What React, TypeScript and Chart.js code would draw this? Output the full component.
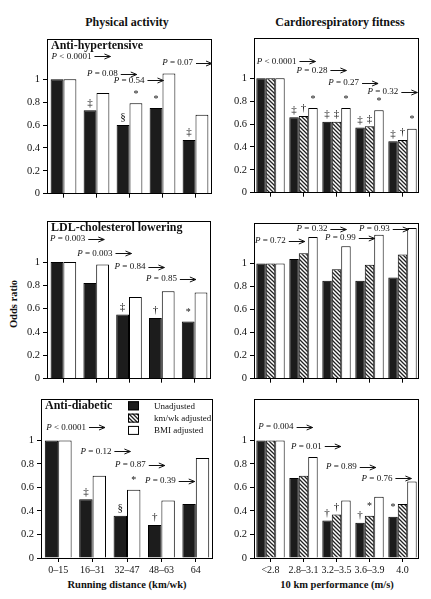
import React, { useEffect, useRef } from 'react';
import { Chart, registerables } from 'chart.js';
Chart.register(...registerables);

const FONT = "'Liberation Serif', 'Times New Roman', serif";

// ---------- categories ----------
const paCategories = ['0–15', '16–31', '32–47', '48–63', '64'];
const crfCategories = ['<2.8', '2.8–3.1', '3.2–3.5', '3.6–3.9', '4.0'];
const yTickValues = [0, 0.2, 0.4, 0.6, 0.8, 1];

// ---------- Anti-hypertensive ----------
const htnPA_unadj = [1, 0.73, 0.6, 0.75, 0.47];
const htnPA_bmi = [1, 0.88, 0.79, 1.05, 0.69];
const htnCRF_unadj = [1, 0.66, 0.62, 0.57, 0.45];
const htnCRF_km = [1, 0.67, 0.62, 0.58, 0.46];
const htnCRF_bmi = [1, 0.74, 0.74, 0.72, 0.56];

// ---------- LDL-cholesterol lowering ----------
const ldlPA_unadj = [1, 0.82, 0.55, 0.52, 0.49];
const ldlPA_bmi = [1, 0.98, 0.7, 0.75, 0.74];
const ldlCRF_unadj = [1, 1.04, 0.85, 0.85, 0.88];
const ldlCRF_km = [1, 1.09, 0.95, 0.99, 1.08];
const ldlCRF_bmi = [1, 1.23, 1.15, 1.25, 1.31];

// ---------- Anti-diabetic ----------
const diabPA_unadj = [1, 0.5, 0.36, 0.28, 0.46];
const diabPA_bmi = [1, 0.7, 0.58, 0.49, 0.85];
const diabCRF_unadj = [1, 0.68, 0.32, 0.3, 0.35];
const diabCRF_km = [1, 0.7, 0.37, 0.36, 0.46];
const diabCRF_bmi = [1, 0.86, 0.49, 0.52, 0.65];

// ---------- P-trend labels: [text, category position, value] ----------
const htnPA_p: [string, number, number][] = [['< 0.0001', -0.36, 1.2], ['= 0.08', 0.71, 1.05], ['= 0.54', 1.52, 0.99], ['= 0.07', 2.99, 1.147]];
const htnCRF_p: [string, number, number][] = [['< 0.0001', -0.42, 1.15], ['= 0.28', 0.79, 1.07], ['= 0.27', 1.75, 0.96], ['= 0.32', 2.94, 0.88]];
const ldlPA_p: [string, number, number][] = [['= 0.003', -0.41, 1.2], ['= 0.003', 0.42, 1.075], ['= 0.84', 1.56, 0.96], ['= 0.85', 2.52, 0.857]];
const ldlCRF_p: [string, number, number][] = [['= 0.72', -0.47, 1.196], ['= 0.32', 0.79, 1.3], ['= 0.99', 1.65, 1.223], ['= 0.93', 2.68, 1.3]];
const diabPA_p: [string, number, number][] = [['< 0.0001', -0.35, 1.113], ['= 0.12', 0.65, 0.907], ['= 0.87', 1.65, 0.79], ['= 0.39', 2.52, 0.654]];
const diabCRF_p: [string, number, number][] = [['= 0.004', -0.37, 1.118], ['= 0.01', 0.62, 0.951], ['= 0.89', 1.68, 0.775], ['= 0.76', 2.76, 0.679]];

// ---------- significance marks: [category, dataset, symbol] ----------
const htnPA_sig: [number, number, string][] = [[1, 0, '‡'], [2, 0, '§'], [2, 1, '*'], [3, 0, '*'], [4, 0, '‡']];
const htnCRF_sig: [number, number, string][] = [[1, 0, '‡'], [1, 1, '†'], [1, 2, '*'], [2, 0, '‡'], [2, 1, '‡'], [2, 2, '*'], [3, 0, '‡'], [3, 1, '‡'], [3, 2, '*'], [4, 0, '‡'], [4, 1, '†'], [4, 2, '*']];
const ldlPA_sig: [number, number, string][] = [[2, 0, '‡'], [3, 0, '†'], [4, 0, '*']];
const ldlCRF_sig: [number, number, string][] = [];
const diabPA_sig: [number, number, string][] = [[1, 0, '‡'], [2, 0, '§'], [2, 1, '*'], [3, 0, '†']];
const diabCRF_sig: [number, number, string][] = [[2, 0, '†'], [2, 1, '†'], [3, 0, '†'], [3, 1, '*'], [4, 0, '*']];

const legendLabels = ['Unadjusted', 'km/wk adjusted', 'BMI adjusted'];

type Kind = 'black' | 'hatch' | 'white';

let hatchCache: CanvasPattern | null = null;
function hatch(): CanvasPattern {
  if (hatchCache) return hatchCache;
  const c = document.createElement('canvas');
  c.width = 4;
  c.height = 4;
  const g = c.getContext('2d')!;
  g.fillStyle = '#fff';
  g.fillRect(0, 0, 4, 4);
  g.strokeStyle = '#222';
  g.lineWidth = 1.3;
  g.beginPath();
  g.moveTo(-1, -1); g.lineTo(5, 5);
  g.moveTo(-1, 3); g.lineTo(1, 5);
  g.moveTo(3, -1); g.lineTo(5, 1);
  g.stroke();
  hatchCache = g.createPattern(c, 'repeat')!;
  return hatchCache;
}

function fillFor(k: Kind): any {
  if (k === 'black') return '#1c1c1c';
  if (k === 'white') return '#ffffff';
  return hatch();
}

type PanelProps = {
  l: number; t: number; r: number; b: number;
  labels: string[];
  series: number[][];
  kinds: Kind[];
  title?: string;
  pvals: [string, number, number][];
  sigs: [number, number, string][];
  showX: boolean;
  legend?: boolean;
  catPct: number;
};

const YW = 32;
const PADT = 3;
const PADR = 3;

function Panel(p: PanelProps) {
  const ref = useRef<HTMLCanvasElement>(null);
  const xh = p.showX ? 26 : 6;
  const width = (p.r - p.l) + YW + PADR;
  const height = (p.b - p.t) + PADT + xh;

  useEffect(() => {
    const annot = {
      id: 'annot',
      afterDatasetsDraw(chart: any) {
        const ctx = chart.ctx as CanvasRenderingContext2D;
        const ca = chart.chartArea;
        const xs = chart.scales.x;
        const ys = chart.scales.y;
        const c0 = xs.getPixelForValue(0);
        const step = xs.getPixelForValue(1) - c0;
        ctx.save();
        ctx.strokeStyle = '#000';
        ctx.lineWidth = 1;
        ctx.strokeRect(Math.round(ca.left) + 0.5, Math.round(ca.top) + 0.5, Math.round(ca.right - ca.left) - 1, Math.round(ca.bottom - ca.top));
        ctx.fillStyle = '#111';
        if (p.title) {
          ctx.font = `bold 12px ${FONT}`;
          ctx.textAlign = 'left';
          ctx.textBaseline = 'middle';
          ctx.fillText(p.title, ca.left + 4, ca.top + 7);
        }
        // P trend labels with arrows
        for (const [txt, xp, yv] of p.pvals) {
          const px = c0 + xp * step;
          const py = ys.getPixelForValue(yv);
          ctx.textAlign = 'left';
          ctx.textBaseline = 'middle';
          ctx.font = `italic 9px ${FONT}`;
          ctx.fillText('P', px, py);
          const w1 = ctx.measureText('P').width;
          ctx.font = `9px ${FONT}`;
          const s = ' ' + txt;
          ctx.fillText(s, px + w1, py);
          const w2 = ctx.measureText(s).width;
          const ax = px + w1 + w2 + 3;
          const ay = Math.round(py) + 0.5;
          const len = 16;
          ctx.strokeStyle = '#111';
          ctx.lineWidth = 1;
          ctx.beginPath();
          ctx.moveTo(ax, ay);
          ctx.lineTo(ax + len, ay);
          ctx.moveTo(ax + len - 6, ay - 2.5);
          ctx.lineTo(ax + len, ay);
          ctx.lineTo(ax + len - 6, ay + 2.5);
          ctx.stroke();
        }
        // significance marks
        for (const [cat, ds, sym] of p.sigs) {
          const el = chart.getDatasetMeta(ds).data[cat];
          if (!el) continue;
          ctx.textAlign = 'center';
          ctx.textBaseline = 'bottom';
          if (sym === '*') {
            ctx.font = `10px ${FONT}`;
            ctx.fillText(sym, el.x, el.y - 4);
          } else {
            ctx.font = `11px ${FONT}`;
            ctx.fillText(sym, el.x, el.y - 2);
          }
        }
        // legend
        if (p.legend) {
          const bx = ca.left + 87;
          const kinds: Kind[] = ['black', 'hatch', 'white'];
          for (let i = 0; i < 3; i++) {
            const by = ca.top + 2 + i * 12.3;
            ctx.fillStyle = fillFor(kinds[i]);
            ctx.fillRect(bx, by, 11, 9);
            ctx.strokeStyle = '#000';
            ctx.strokeRect(bx + 0.5, by + 0.5, 10, 8);
            ctx.fillStyle = '#111';
            ctx.font = `9px ${FONT}`;
            ctx.textAlign = 'left';
            ctx.textBaseline = 'middle';
            ctx.fillText(legendLabels[i], bx + 26, by + 5);
          }
        }
        ctx.restore();
      },
    };

    const chart = new Chart(ref.current!, {
      type: 'bar',
      data: {
        labels: p.labels,
        datasets: p.series.map((d, i) => ({
          label: p.kinds[i],
          data: d,
          backgroundColor: fillFor(p.kinds[i]),
          borderColor: '#000',
          borderWidth: 1,
          categoryPercentage: p.catPct,
          barPercentage: 1,
        })),
      },
      options: {
        responsive: false,
        animation: false,
        devicePixelRatio: 1,
        layout: { padding: { top: PADT, right: PADR, left: 0, bottom: 0 } },
        plugins: { legend: { display: false }, tooltip: { enabled: false } },
        scales: {
          x: {
            type: 'category',
            offset: true,
            grid: { display: true, drawOnChartArea: false, drawTicks: true, tickLength: 4, offset: false, tickColor: '#000', color: '#000' },
            border: { display: false },
            ticks: { display: p.showX, color: '#111', font: { family: FONT, size: 10 }, padding: 2, maxRotation: 0, autoSkip: false },
            afterFit(scale: any) { scale.height = xh; },
          },
          y: {
            type: 'linear',
            min: 0,
            max: 1.35,
            grid: { display: true, drawOnChartArea: false, drawTicks: true, tickLength: 4, tickColor: '#000', color: '#000' },
            border: { display: false },
            ticks: {
              color: '#111',
              font: { family: FONT, size: 10.5 },
              padding: 3,
              callback: (v: any) => `${Math.round(Number(v) * 10) / 10}`,
            },
            afterBuildTicks(scale: any) {
              scale.ticks = yTickValues.map((v) => ({ value: v }));
            },
            afterFit(scale: any) { scale.width = YW; },
          },
        },
      },
      plugins: [annot],
    } as any);
    return () => chart.destroy();
  }, []);

  return (
    <canvas
      ref={ref}
      width={width}
      height={height}
      style={{ position: 'absolute', left: p.l - YW, top: p.t - PADT, width, height }}
    />
  );
}

function Label(props: { x: number; y: number; size: number; bold?: boolean; rotate?: boolean; children: any }) {
  return (
    <div
      style={{
        position: 'absolute',
        left: props.x,
        top: props.y,
        transform: `translate(-50%, -50%)${props.rotate ? ' rotate(-90deg)' : ''}`,
        fontFamily: FONT,
        fontSize: props.size,
        fontWeight: props.bold ? 'bold' : 'normal',
        whiteSpace: 'nowrap',
        lineHeight: 1,
        color: '#111',
      }}
    >
      {props.children}
    </div>
  );
}

export default function App() {
  return (
    <div style={{ position: 'fixed', left: 0, top: 0, width: 431, height: 599, background: '#fff', overflow: 'hidden' }}>
      <Label x={127} y={21.5} size={12} bold>Physical activity</Label>
      <Label x={340} y={21.5} size={12} bold>Cardiorespiratory fitness</Label>
      <Label x={14} y={304} size={10.5} bold rotate>Odds ratio</Label>
      <Label x={127} y={585} size={10.5} bold>Running distance (km/wk)</Label>
      <Label x={337} y={585} size={10.5} bold>10 km performance (m/s)</Label>

      <Panel l={47} t={33} r={212} b={197} labels={paCategories} series={[htnPA_unadj, htnPA_bmi]} kinds={['black', 'white']}
        title="Anti-hypertensive" pvals={htnPA_p} sigs={htnPA_sig} showX={false} catPct={0.78} />
      <Panel l={254} t={32} r={419} b={196} labels={crfCategories} series={[htnCRF_unadj, htnCRF_km, htnCRF_bmi]} kinds={['black', 'hatch', 'white']}
        pvals={htnCRF_p} sigs={htnCRF_sig} showX={false} catPct={0.86} />

      <Panel l={47} t={215} r={211} b={382} labels={paCategories} series={[ldlPA_unadj, ldlPA_bmi]} kinds={['black', 'white']}
        title="LDL-cholesterol lowering" pvals={ldlPA_p} sigs={ldlPA_sig} showX={false} catPct={0.78} />
      <Panel l={254} t={217} r={419} b={382} labels={crfCategories} series={[ldlCRF_unadj, ldlCRF_km, ldlCRF_bmi]} kinds={['black', 'hatch', 'white']}
        pvals={ldlCRF_p} sigs={ldlCRF_sig} showX={false} catPct={0.86} />

      <Panel l={41} t={393} r={213} b={558} labels={paCategories} series={[diabPA_unadj, diabPA_bmi]} kinds={['black', 'white']}
        title="Anti-diabetic" pvals={diabPA_p} sigs={diabPA_sig} showX={true} legend catPct={0.78} />
      <Panel l={254} t={393} r={419} b={558} labels={crfCategories} series={[diabCRF_unadj, diabCRF_km, diabCRF_bmi]} kinds={['black', 'hatch', 'white']}
        pvals={diabCRF_p} sigs={diabCRF_sig} showX={true} catPct={0.86} />
    </div>
  );
}
